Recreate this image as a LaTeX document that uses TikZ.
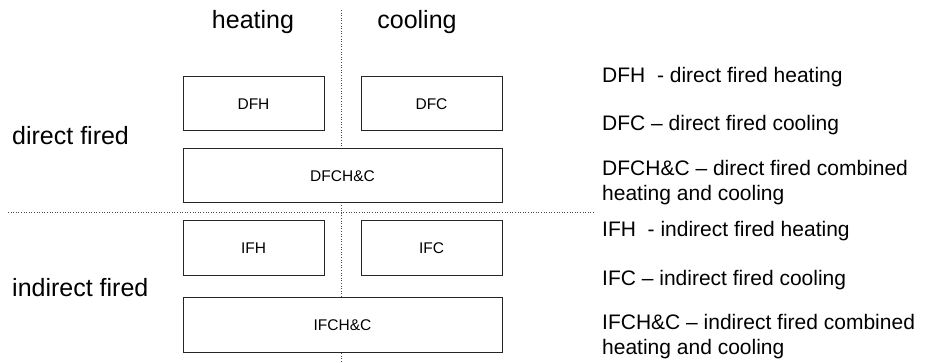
\documentclass[tikz,border=0pt]{standalone}
\usepackage{fontspec}
\setmainfont{Liberation Sans}
\usepackage{tikz}
\usetikzlibrary{positioning,calc}

\begin{document}
\begin{tikzpicture}[
			x = 1pt, y = -1pt,
			every node/.style = {inner sep=0pt},
			box/.style = {draw=black!85, line width=1pt, fill=white, minimum height=54pt, font=\fontsize{15.5}{18}\selectfont},
			small/.style = {box, minimum width=141pt},
			wide/.style = {box, minimum width=319pt},
			head/.style = {font=\fontsize{25}{30}\selectfont},
			note/.style = {anchor=west, align=left, font=\fontsize{21}{25}\selectfont},
			sep/.style = {dotted, black!70, line width=0.6pt}
		]
		\useasboundingbox (0,0) rectangle (935,363);

		% dividing lines
		\coordinate (vtop) at (341,10);
		\coordinate (vbot) at (341,363);
		\coordinate (hleft) at (8,212);
		\coordinate (hright) at (595,212);
		\draw[sep] (vtop) -- (vbot);
		\draw[sep] (hleft) -- (hright);

		\node[head] (heat) at (253,22) {heating};
		\node[head] (cool) at (417,22) {cooling};
		\node[head, anchor=west] (direct) at (12,136) {direct fired};
		\node[head, anchor=west] (indirect) at (12,288) {indirect fired};

		\node[small] (dfh) at (253.5,104) {DFH};
		\node[small] (dfc) at (431.5,104) {DFC};
		\node[wide] (dfchc) at (342.5,176) {DFCH\&C};
		\node[small, minimum height=55pt] (ifh) at (253.5,248.5) {IFH};
		\node[small, minimum height=55pt] (ifc) at (431.5,248.5) {IFC};
		\node[wide, minimum height=55pt] (ifchc) at (342.5,325.5) {IFCH\&C};

		\node[note] (n1) at (602,77) {DFH~ - direct fired heating};
		\node[note] (n2) at (602,125) {DFC -- direct fired cooling};
		\node[note] (n3) at (602,183) {DFCH\&C -- direct fired combined\\heating and cooling};
		\node[note] (n4) at (602,231) {IFH~ - indirect fired heating};
		\node[note] (n5) at (602,280) {IFC -- indirect fired cooling};
		\node[note] (n6) at (602,337) {IFCH\&C -- indirect fired combined\\heating and cooling};

		\end{tikzpicture}
\end{document}
